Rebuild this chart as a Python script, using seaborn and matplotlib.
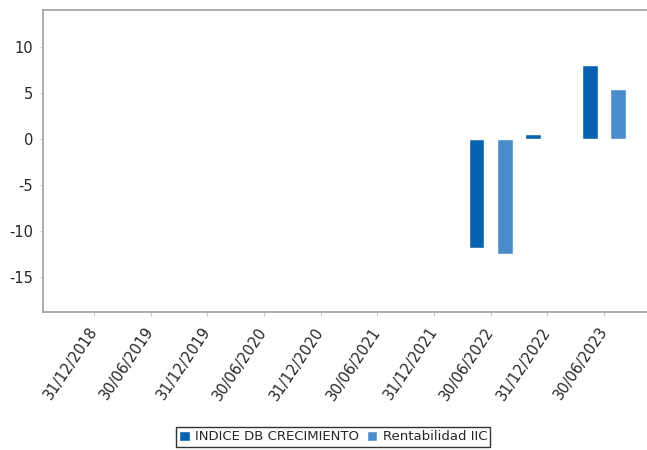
import pandas as pd
import numpy as np
import matplotlib
matplotlib.use('Agg')
import matplotlib.pyplot as plt
import seaborn as sns

# Periods on the x axis
fechas = ['31/12/2018', '30/06/2019', '31/12/2019', '30/06/2020', '31/12/2020',
          '30/06/2021', '31/12/2021', '30/06/2022', '31/12/2022', '30/06/2023']

# Series values (no data before 30/06/2022)
indice_db = [np.nan, np.nan, np.nan, np.nan, np.nan, np.nan, np.nan, -11.8, 0.5, 8.0]
rentabilidad_iic = [np.nan, np.nan, np.nan, np.nan, np.nan, np.nan, np.nan, -12.5, -0.1, 5.4]

series = ['INDICE DB CRECIMIENTO', 'Rentabilidad IIC']
colores = ['#0862b0', '#4b8dcc']

data = pd.DataFrame({
    'Fecha': fechas * 2,
    'Serie': [series[0]] * len(fechas) + [series[1]] * len(fechas),
    'Valor': indice_db + rentabilidad_iic,
})
data = data.dropna()

sns.set_style('white')
plt.rcParams['font.family'] = ['DejaVu Sans']
plt.rcParams['axes.unicode_minus'] = False

fig = plt.figure(figsize=(6.47, 4.5), dpi=100)
ax = fig.add_axes([43 / 647, 138 / 450, 1 - 43 / 647, 302 / 450])

sns.barplot(data=data, x='Fecha', y='Valor', hue='Serie', order=fechas,
            hue_order=series, palette=colores, width=1.0, gap=0.44,
            errorbar=None, saturation=1, ax=ax)

ax.set_xlim(-0.9, 9.76)
ax.set_ylim(-18.8, 14)
ax.set_yticks([-15, -10, -5, 0, 5, 10])
ax.set_xlabel('')
ax.set_ylabel('')

for lbl in ax.get_xticklabels():
    lbl.set_rotation(56)
    lbl.set_ha('right')
    lbl.set_va('center')
    lbl.set_rotation_mode('anchor')
ax.tick_params(axis='x', labelsize=10.5, length=3, color='#cccccc', direction='out',
               bottom=True, pad=9)
ax.tick_params(axis='y', labelsize=10.5, length=2, color='#cccccc', direction='out',
               left=True, pad=5)

for side in ['top', 'left', 'bottom']:
    ax.spines[side].set_color('#a0a0a0')
    ax.spines[side].set_linewidth(1.2)
ax.spines['right'].set_visible(False)

handles, labels = ax.get_legend_handles_labels()
ax.legend_.remove()
leg = fig.legend(handles, labels, loc='center', bbox_to_anchor=(333 / 647, 1 - 437 / 450),
                 ncol=2, frameon=True, fancybox=False, fontsize=9.5,
                 handlelength=0.8, handleheight=0.8, handletextpad=0.4,
                 columnspacing=0.6, borderpad=0.25, borderaxespad=0)
leg.get_frame().set_edgecolor('black')
leg.get_frame().set_linewidth(1.0)

plt.savefig('out.png', dpi=100)
